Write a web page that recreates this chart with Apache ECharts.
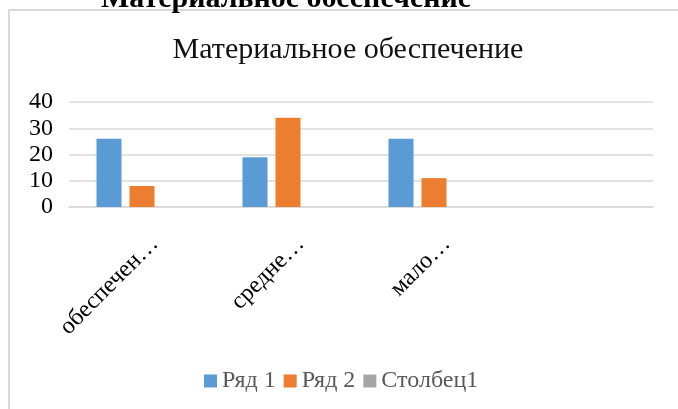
<!DOCTYPE html>
<html>
<head>
<meta charset="utf-8">
<script src="https://cdn.jsdelivr.net/npm/echarts@6/dist/echarts.min.js"></script>
<style>
  html, body { margin: 0; padding: 0; background: #fff; }
  #chart { width: 678px; height: 409px; }
</style>
</head>
<body>
<div id="chart"></div>
<script>
// chart data
const categories = ["обеспечен…", "средне…", "мало…", ""];
const seriesNames = ["Ряд 1", "Ряд 2", "Столбец1"];
const row1 = [26, 19, 26, null];
const row2 = [8, 34, 11, null];
const column1 = [null, null, null, null];
const yTicks = { min: 0, max: 40, step: 10 };

const heading = "Материальное обеспечение";
const colors = ["#5b9bd5", "#ed7d31", "#a5a5a5"];
const serif = "Liberation Serif";

const chart = echarts.init(document.getElementById("chart"), null, { renderer: "canvas" });

const option = {
  backgroundColor: "#fff",
  animation: false,
  color: colors,

  title: {
    text: heading,
    left: 343,
    top: 30,
    textAlign: "center",
    textStyle: { fontFamily: serif, fontSize: 30, fontWeight: "normal", color: "#111" },
  },

  // document heading cut off above the chart + the chart frame
  graphic: [
    {
      type: "rect",
      shape: { x: 9, y: 10, width: 720, height: 440 },
      style: { fill: null, stroke: "#d9d9d9", lineWidth: 2 },
      z: -1,
    },
    {
      type: "text",
      x: 286,
      y: 14,
      style: {
        text: heading,
        font: "bold 30px " + serif,
        fill: "#000",
        textAlign: "center",
        textVerticalAlign: "bottom",
      },
    },
  ],

  legend: {
    data: seriesNames,
    left: 199,
    top: 364,
    orient: "horizontal",
    icon: "rect",
    itemWidth: 13,
    itemHeight: 13,
    itemGap: 8,
    textStyle: { fontFamily: serif, fontSize: 24, color: "#595959" },
  },

  grid: { left: 69, right: 25, top: 102, bottom: 202, containLabel: false },

  xAxis: {
    type: "category",
    data: categories,
    axisLine: { show: true, lineStyle: { color: "#d9d9d9", width: 1.5 } },
    axisTick: { show: false },
    axisLabel: {
      interval: 0,
      rotate: 45,
      margin: 46,
      padding: [0, -18, 0, 0],
      fontFamily: serif,
      fontSize: 24,
      color: "#000",
    },
    splitLine: { show: false },
  },

  yAxis: {
    type: "value",
    min: yTicks.min,
    max: yTicks.max,
    interval: yTicks.step,
    axisLine: { show: false },
    axisTick: { show: false },
    axisLabel: { margin: 16, fontFamily: serif, fontSize: 24, color: "#000" },
    splitLine: { lineStyle: { color: "#d9d9d9", width: 1.5 } },
  },

  series: [
    { name: seriesNames[0], type: "bar", data: row1, barWidth: 25, barGap: "32%" },
    { name: seriesNames[1], type: "bar", data: row2, barWidth: 25, barGap: "32%" },
    { name: seriesNames[2], type: "bar", data: column1, barWidth: 25, barGap: "32%" },
  ],
};

chart.setOption(option);
</script>
</body>
</html>
